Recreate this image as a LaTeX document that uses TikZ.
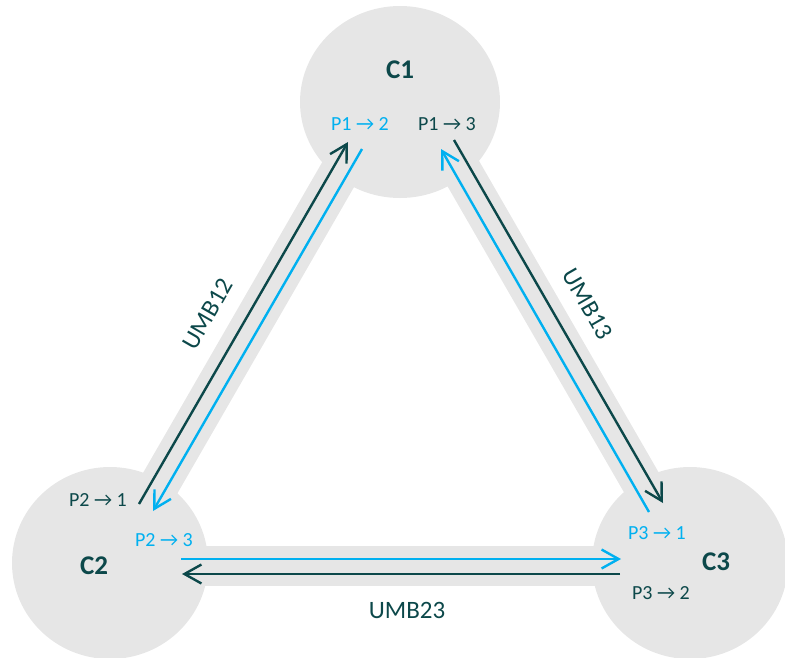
\documentclass[tikz,border=0pt]{standalone}
\usepackage{fontspec}
\setmainfont{Carlito}
\usetikzlibrary{arrows.meta}
\definecolor{cellgrey}{RGB}{230,230,230}
\definecolor{darkteal}{RGB}{12,72,74}
\definecolor{skyblue}{RGB}{0,176,240}
\tikzset{
  band/.style={draw=cellgrey, line width=40pt},
  celltitle/.style={font=\fontsize{27}{30}\selectfont\bfseries, text=darkteal, inner sep=0pt},
  portdark/.style={font=\fontsize{20}{22}\selectfont, text=darkteal, inner sep=0pt},
  portblue/.style={font=\fontsize{20}{22}\selectfont, text=skyblue, inner sep=0pt},
  linklabel/.style={font=\fontsize{25}{28}\selectfont, text=darkteal, inner sep=0pt},
  flowdark/.style={draw=darkteal, line width=2.4pt, -{Straight Barb[length=17pt,width=19pt,line width=2.4pt]}},
  flowblue/.style={draw=skyblue, line width=2.4pt, -{Straight Barb[length=17pt,width=19pt,line width=2.4pt]}}
}
\begin{document}
\begin{tikzpicture}[x=1pt, y=-1pt]
\useasboundingbox (0,0) rectangle (785,657);

% grey links between the cells
\draw[band] (380,102) -- (113,565);
\draw[band] (422,102) -- (689,565);
\draw[band] (110,566) -- (690,566);

% the three cells
\fill[cellgrey] (400,102) ellipse [x radius=100, y radius=96];
\fill[cellgrey] (110,563) ellipse [x radius=98, y radius=96];
\fill[cellgrey] (690,563) ellipse [x radius=98, y radius=96];

% cell titles
\node[celltitle] (c1) at (400,70) {C1};
\node[celltitle] (c2) at (94,566) {C2};
\node[celltitle] (c3) at (716,562) {C3};

% port labels
\node[portblue] (p12) at (360,124) {P1 → 2};
\node[portdark] (p13) at (447,124) {P1 → 3};
\node[portdark] (p21) at (98,500) {P2 → 1};
\node[portblue] (p23) at (164,540) {P2 → 3};
\node[portblue] (p31) at (657,533) {P3 → 1};
\node[portdark] (p32) at (661,593) {P3 → 2};

% end points of the flows
\coordinate (a21s) at (139,504);
\coordinate (a21e) at (348,142);
\coordinate (a12s) at (362,149);
\coordinate (a12e) at (153,511);
\coordinate (a13s) at (454,140);
\coordinate (a13e) at (663,503);
\coordinate (a31s) at (649,512);
\coordinate (a31e) at (441,149);
\coordinate (a23s) at (181,559);
\coordinate (a23e) at (621,559);
\coordinate (a32s) at (620,574);
\coordinate (a32e) at (182,574);

% flows
\draw[flowdark] (a21s) -- (a21e);
\draw[flowblue] (a12s) -- (a12e);
\draw[flowdark] (a13s) -- (a13e);
\draw[flowblue] (a31s) -- (a31e);
\draw[flowblue] (a23s) -- (a23e);
\draw[flowdark] (a32s) -- (a32e);

% link names
\node[linklabel, rotate=60] (umb12) at (208,314) {UMB12};
\node[linklabel, rotate=-60] (umb13) at (588,304) {UMB13};
\node[linklabel] (umb23) at (407,610) {UMB23};
\end{tikzpicture}
\end{document}
